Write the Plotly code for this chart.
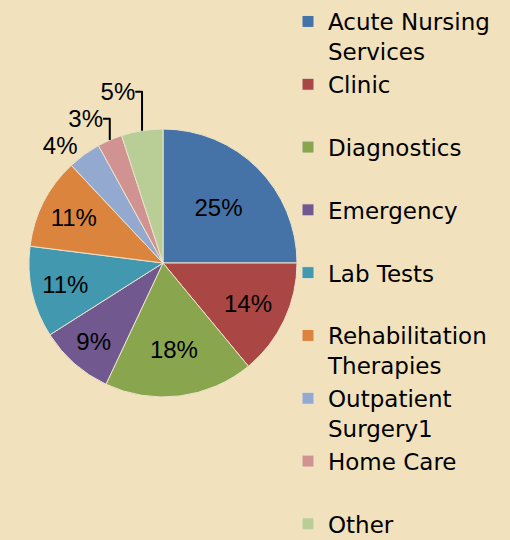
import plotly.graph_objects as go

categories = ["Acute Nursing<br>Services", "Clinic", "Diagnostics", "Emergency", "Lab Tests",
              "Rehabilitation<br>Therapies", "Outpatient<br>Surgery1", "Home Care", "Other"]
values = [25, 14, 18, 9, 11, 11, 4, 3, 5]
colors = ["#4572A7", "#AA4643", "#89A54E", "#71588F", "#4198AF",
          "#DB843D", "#93A9CF", "#D19392", "#B9CD96"]
text_positions = ["inside"] * 6 + ["outside"] * 3

legend_names = [c if "<br>" in c else c + "<br> " for c in categories]

fig = go.Figure(go.Pie(
    labels=legend_names,
    values=values,
    sort=False,
    direction="clockwise",
    rotation=0,
    marker=dict(colors=colors, line=dict(color="#EDE3CC", width=1)),
    texttemplate="%{percent:.0%}",
    textposition=text_positions,
    insidetextorientation="horizontal",
    textfont=dict(family="Liberation Sans, Arial", size=24, color="black"),
    outsidetextfont=dict(family="Liberation Sans, Arial", size=24, color="black"),
    domain=dict(x=[29/510, 297/510], y=[1-397/540, 1-129/540]),
    hoverinfo="label+percent",
))

fig.update_layout(
    width=510, height=540,
    margin=dict(l=0, r=0, t=0, b=0),
    paper_bgcolor="#F1E2BD",
    plot_bgcolor="#F1E2BD",
    legend=dict(x=288/510, xanchor="left", y=1.0, yanchor="top",
                font=dict(family="DejaVu Sans", size=23, color="black"),
                valign="top", itemwidth=30, bgcolor="rgba(0,0,0,0)",
                traceorder="normal", maxheight=2000),
    showlegend=True,
)

fig.write_html("out.html", config={"displayModeBar": False},
               post_script="document.body.style.margin='0';")
